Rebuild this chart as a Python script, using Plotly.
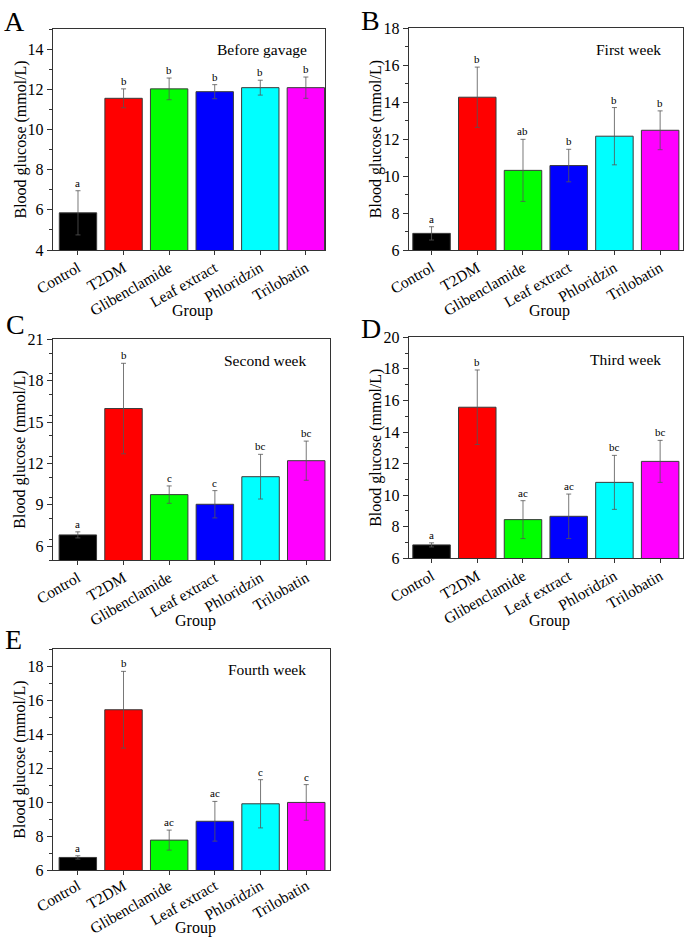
import plotly.graph_objects as go

groups = ["Control", "T2DM", "Glibenclamide", "Leaf extract", "Phloridzin", "Trilobatin"]
colors = ["#000000", "#FF0000", "#00FF00", "#0000FF", "#00FFFF", "#FF00FF"]

panel_labels = ["A", "B", "C", "D", "E"]
panel_titles = ["Before gavage", "First week", "Second week", "Third week", "Fourth week"]

mean_a = [5.85, 11.55, 12.02, 11.88, 12.08, 12.08]
err_a = [1.10, 0.47, 0.54, 0.35, 0.37, 0.53]
sig_a = ["a", "b", "b", "b", "b", "b"]

mean_b = [6.90, 14.27, 10.31, 10.57, 12.16, 12.48]
err_b = [0.36, 1.63, 1.68, 0.88, 1.55, 1.05]
sig_b = ["a", "b", "ab", "b", "b", "b"]

mean_c = [6.82, 15.98, 9.74, 9.04, 11.04, 12.20]
err_c = [0.22, 3.28, 0.63, 0.99, 1.62, 1.42]
sig_c = ["a", "b", "c", "c", "bc", "bc"]

mean_d = [6.85, 15.57, 8.45, 8.66, 10.81, 12.14]
err_d = [0.13, 2.36, 1.20, 1.41, 1.71, 1.33]
sig_d = ["a", "b", "ac", "ac", "bc", "bc"]

mean_e = [6.74, 15.44, 7.76, 8.87, 9.90, 9.98]
err_e = [0.10, 2.26, 0.59, 1.17, 1.42, 1.05]
sig_e = ["a", "b", "ac", "ac", "c", "c"]

means = [mean_a, mean_b, mean_c, mean_d, mean_e]
errs = [err_a, err_b, err_c, err_d, err_e]
sigs = [sig_a, sig_b, sig_c, sig_d, sig_e]

y_ranges = [[4, 15], [6, 18], [5, 21], [6, 20], [6, 19]]
y_ticks = [[4, 6, 8, 10, 12, 14], [6, 8, 10, 12, 14, 16, 18], [6, 9, 12, 15, 18, 21],
           [6, 8, 10, 12, 14, 16, 18, 20], [6, 8, 10, 12, 14, 16, 18]]
y_minor = [1, 1, 1.5, 1, 1]
x_ranges = [[-0.555, 5.42], [-0.5, 5.5], [-0.55, 5.52], [-0.5, 5.5], [-0.55, 5.52]]

W, H = 686, 939
# plot boxes in pixels: left, right, top, bottom
boxes = [(52.7, 325, 29, 250), (408.7, 683, 28.3, 250), (52.7, 330, 339.3, 560),
         (408.7, 683, 337.3, 558.3), (52.7, 330, 649.3, 870)]
letter_pos = [(2, 4), (359, 3), (4, 307), (359, 311), (3, 622)]
title_pos = [(261.7, 49), (628.7, 49), (264.7, 360), (625.3, 359.3), (267, 669.3)]
ytitle_x = [20, 376, 20, 376, 20]
group_y = [311, 311, 621, 621, 928]
label_standoff = [-2, -2, -2, -2, -4]

FONT = "Liberation Serif, Times New Roman, serif"
fig = go.Figure()
layout = {}
annotations = []

for i in range(5):
    n = "" if i == 0 else str(i + 1)
    xa, ya = "x" + n, "y" + n
    l, r, t, b = boxes[i]
    fig.add_trace(go.Bar(
        x=list(range(6)), y=means[i], base=0,
        marker=dict(color=colors, line=dict(color="#3a3a3a", width=1)),
        width=0.82,
        error_y=dict(type="data", array=errs[i], visible=True, color="#555555",
                     thickness=0.8, width=2.5),
        xaxis=xa, yaxis=ya, showlegend=False))
    layout["xaxis" + n] = dict(
        domain=[l / W, r / W], anchor=ya, range=x_ranges[i], automargin=False,
        tickmode="array", tickvals=list(range(6)), ticktext=groups,
        tickangle=-30, ticks="outside", ticklen=4, tickwidth=1, tickcolor="#333",
        ticklabelstandoff=label_standoff[i],
        showline=True, linecolor="#333", linewidth=1, mirror=True,
        showgrid=False, zeroline=False, fixedrange=True,
        tickfont=dict(family=FONT, size=15.5, color="black"))
    layout["yaxis" + n] = dict(
        domain=[1 - b / H, 1 - t / H], anchor=xa, range=y_ranges[i], automargin=False,
        tickmode="array", tickvals=y_ticks[i],
        ticks="outside", ticklen=5, tickwidth=1, tickcolor="#333",
        minor=dict(ticks="outside", ticklen=3, dtick=y_minor[i], tick0=y_ranges[i][0],
                   tickcolor="#333", showgrid=False),
        showline=True, linecolor="#333", linewidth=1, mirror=True,
        showgrid=False, zeroline=False, fixedrange=True,
        tickfont=dict(family=FONT, size=16, color="black"))
    # significance letters
    for j in range(6):
        annotations.append(dict(
            x=j, y=means[i][j] + errs[i][j], xref=xa, yref=ya, text=sigs[i][j],
            showarrow=False, yanchor="bottom", yshift=0,
            font=dict(family=FONT, size=11, color="black")))
    # panel letter
    lx, ly = letter_pos[i]
    annotations.append(dict(
        x=lx / W, y=1 - ly / H, xref="paper", yref="paper", text=panel_labels[i],
        showarrow=False, xanchor="left", yanchor="top",
        font=dict(family=FONT, size=28, color="black")))
    # panel title
    tx, ty = title_pos[i]
    annotations.append(dict(
        x=tx / W, y=1 - ty / H, xref="paper", yref="paper", text=panel_titles[i],
        showarrow=False, xanchor="center", yanchor="middle",
        font=dict(family=FONT, size=15.5, color="black")))
    # y title
    annotations.append(dict(
        x=ytitle_x[i] / W, y=1 - ((t + b) / 2) / H, xref="paper", yref="paper",
        text="Blood glucose (mmol/L)", textangle=-90,
        showarrow=False, xanchor="center", yanchor="middle",
        font=dict(family=FONT, size=16, color="black")))
    # x title
    annotations.append(dict(
        x=((l + r) / 2 + 4) / W, y=1 - group_y[i] / H, xref="paper", yref="paper",
        text="Group", showarrow=False, xanchor="center", yanchor="middle",
        font=dict(family=FONT, size=16, color="black")))

fig.update_layout(
    width=W, height=H, margin=dict(l=0, r=0, t=0, b=0, autoexpand=False),
    paper_bgcolor="white", plot_bgcolor="white",
    annotations=annotations, bargap=0.18, **layout)

fig.write_html("out.html", config={"displayModeBar": False},
               post_script="document.body.style.margin='0';document.body.style.overflow='hidden';")
